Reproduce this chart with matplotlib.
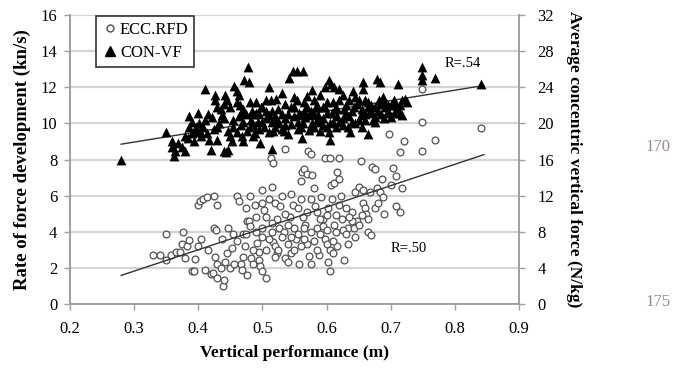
import numpy as np
import matplotlib
matplotlib.use('Agg')
import matplotlib.pyplot as plt
from matplotlib.lines import Line2D

plt.rcParams['font.family'] = ['Liberation Serif', 'DejaVu Serif']

# ECC.RFD (left axis, kn/s)
ecc_x = [0.33, 0.34, 0.35, 0.35, 0.358, 0.365, 0.372, 0.375, 0.377, 0.38, 0.382, 0.386,
         0.39, 0.393, 0.40, 0.403, 0.408, 0.414, 0.405, 0.41, 0.42, 0.423, 0.425, 0.429,
         0.425, 0.428, 0.427, 0.429, 0.43, 0.437, 0.439, 0.44, 0.442, 0.446, 0.449, 0.452,
         0.456, 0.461, 0.464, 0.466, 0.468, 0.47, 0.474, 0.473, 0.475, 0.476, 0.479, 0.476,
         0.481, 0.483, 0.486, 0.489, 0.49, 0.492, 0.494, 0.495, 0.497, 0.499, 0.50, 0.50,
         0.50, 0.503, 0.506, 0.511, 0.513, 0.516, 0.515, 0.516, 0.519, 0.523, 0.52, 0.523,
         0.526, 0.528, 0.53, 0.533, 0.536, 0.54, 0.535, 0.54, 0.543, 0.547, 0.55, 0.553,
         0.555, 0.557, 0.56, 0.562, 0.565, 0.57, 0.56, 0.563, 0.567, 0.57, 0.571, 0.575,
         0.573, 0.575, 0.578, 0.58, 0.582, 0.585, 0.589, 0.592, 0.594, 0.597, 0.598, 0.605,
         0.602, 0.602, 0.605, 0.607, 0.611, 0.609, 0.612, 0.614, 0.616, 0.617, 0.62, 0.62,
         0.622, 0.624, 0.627, 0.63, 0.634, 0.634, 0.639, 0.643, 0.645, 0.65, 0.647, 0.651,
         0.654, 0.656, 0.657, 0.66, 0.662, 0.664, 0.67, 0.665, 0.667, 0.671, 0.676, 0.678,
         0.683, 0.686, 0.688, 0.69, 0.698, 0.701, 0.703, 0.708, 0.708, 0.715, 0.715, 0.718,
         0.72, 0.748, 0.748, 0.748, 0.769, 0.841,
         0.505, 0.51, 0.53, 0.545, 0.55, 0.565, 0.575, 0.58, 0.59, 0.595, 0.60, 0.605,
         0.61, 0.615, 0.625, 0.63, 0.64, 0.60, 0.585, 0.57, 0.555, 0.545, 0.535, 0.515,
         0.50, 0.485, 0.46, 0.445, 0.435, 0.415, 0.395, 0.40, 0.52,
         0.455, 0.47, 0.48, 0.49, 0.505, 0.515, 0.525, 0.54, 0.545, 0.56, 0.565, 0.575,
         0.585, 0.59, 0.60, 0.61, 0.62, 0.635, 0.645, 0.655, 0.675, 0.68]
ecc_y = [2.7, 2.7, 3.9, 2.45, 2.7, 2.9, 2.9, 3.3, 4.0, 2.55, 3.2, 3.55,
         1.8, 1.85, 5.5, 5.7, 5.8, 5.9, 3.6, 1.9, 1.65, 1.7, 6.0, 5.5,
         4.2, 4.1, 2.6, 2.2, 1.45, 3.6, 1.0, 1.3, 2.3, 4.2, 2.0, 3.1,
         2.2, 6.0, 5.7, 2.2, 1.9, 3.9, 3.9, 3.2, 5.3, 4.6, 4.6, 1.6,
         6.0, 2.55, 2.2, 5.5, 4.0, 3.4, 2.9, 2.45, 2.1, 1.8, 6.3, 5.6,
         4.2, 5.2, 1.45, 5.8, 8.1, 7.8, 6.5, 3.45, 3.2, 2.8, 5.6, 4.7,
         4.2, 5.45, 6.0, 4.0, 2.55, 2.3, 8.6, 3.3, 4.8, 5.5, 4.2, 3.6,
         3.9, 2.2, 6.8, 7.3, 7.45, 7.2, 5.8, 4.8, 4.4, 3.3, 8.45, 8.3,
         2.65, 2.2, 7.15, 6.45, 5.4, 4.2, 2.7, 5.9, 4.7, 3.6, 8.1, 8.1,
         5.3, 2.3, 1.8, 6.6, 6.7, 5.8, 4.4, 4.0, 7.3, 3.2, 8.1, 6.9,
         6.0, 4.7, 2.45, 5.3, 4.2, 3.3, 5.1, 4.2, 6.2, 6.5, 4.6, 4.4,
         7.9, 6.3, 5.6, 5.3, 5.0, 4.0, 3.8, 4.7, 6.2, 7.6, 7.5, 6.4,
         6.2, 6.9, 5.9, 5.0, 9.4, 6.6, 7.55, 7.1, 5.45, 5.1, 8.4, 6.45,
         9.0, 11.9, 10.1, 8.45, 9.1, 9.76,
         3.0, 3.6, 3.7, 2.8, 3.0, 3.6, 4.0, 3.5, 3.9, 4.3, 3.3, 3.0,
         3.5, 4.9, 4.1, 3.9, 4.6, 4.9, 5.1, 5.1, 5.3, 6.1, 5.0, 4.5,
         3.7, 3.0, 3.5, 2.8, 2.0, 3.0, 2.5, 3.2, 2.6,
         3.9, 2.6, 4.3, 4.8, 4.8, 4.0, 3.0, 4.4, 3.7, 3.2, 4.2, 5.8,
         3.0, 4.7, 4.1, 2.8, 5.5, 4.8, 3.7, 4.9, 5.3, 5.6]

# CON-VF (right axis, N/kg)
con_x = [0.28, 0.35, 0.36, 0.36, 0.362, 0.364, 0.368, 0.375, 0.38, 0.384, 0.385, 0.385,
         0.39, 0.393, 0.395, 0.397, 0.40, 0.401, 0.403, 0.405, 0.408, 0.41, 0.414, 0.417,
         0.42, 0.422, 0.425, 0.427, 0.429, 0.427, 0.43, 0.432, 0.437, 0.44, 0.443, 0.447,
         0.442, 0.445, 0.441, 0.447, 0.45, 0.452, 0.456, 0.461, 0.464, 0.463, 0.466, 0.466,
         0.47, 0.468, 0.47, 0.472, 0.477, 0.479, 0.476, 0.48, 0.483, 0.484, 0.486, 0.489,
         0.493, 0.495, 0.496, 0.498, 0.50, 0.503, 0.506, 0.51, 0.511, 0.513, 0.515, 0.516,
         0.52, 0.522, 0.523, 0.526, 0.53, 0.533, 0.536, 0.54, 0.542, 0.547, 0.554, 0.549,
         0.554, 0.55, 0.557, 0.56, 0.563, 0.563, 0.562, 0.565, 0.57, 0.567, 0.572, 0.573,
         0.577, 0.577, 0.58, 0.584, 0.587, 0.59, 0.594, 0.597, 0.597, 0.604, 0.60, 0.604,
         0.605, 0.607, 0.612, 0.609, 0.614, 0.617, 0.62, 0.62, 0.625, 0.627, 0.63, 0.634,
         0.637, 0.641, 0.644, 0.643, 0.647, 0.65, 0.654, 0.656, 0.657, 0.66, 0.664, 0.665,
         0.668, 0.671, 0.672, 0.676, 0.678, 0.683, 0.681, 0.684, 0.688, 0.691, 0.695, 0.698,
         0.701, 0.705, 0.708, 0.711, 0.715, 0.718, 0.718, 0.722, 0.725, 0.748, 0.748, 0.748,
         0.769, 0.841,
         0.455, 0.46, 0.475, 0.485, 0.49, 0.505, 0.51, 0.515, 0.525, 0.53, 0.535, 0.545,
         0.545, 0.555, 0.56, 0.575, 0.58, 0.585, 0.59, 0.595, 0.60, 0.605, 0.61, 0.615,
         0.625, 0.63, 0.635, 0.64, 0.645, 0.65, 0.655, 0.66, 0.67, 0.675, 0.685, 0.69,
         0.70, 0.71, 0.53, 0.57, 0.59, 0.60, 0.62, 0.49, 0.50, 0.47, 0.44, 0.45, 0.46,
         0.38, 0.39, 0.41, 0.415, 0.43, 0.435, 0.455, 0.465, 0.48, 0.485, 0.495, 0.505,
         0.515, 0.52, 0.535, 0.54, 0.55, 0.555, 0.565, 0.575, 0.58, 0.585, 0.595, 0.61,
         0.615, 0.625, 0.635, 0.64, 0.655, 0.66, 0.665, 0.675, 0.68, 0.69, 0.695, 0.705,
         0.715]
con_y = [16.0, 19.1, 18.0, 17.4, 16.4, 17.0, 17.8, 17.4, 17.0, 18.4, 19.6, 20.8,
         18.9, 18.0, 19.0, 19.6, 21.2, 20.0, 19.2, 18.6, 19.6, 23.8, 18.9, 18.2,
         17.1, 20.7, 19.4, 22.6, 21.8, 23.2, 18.2, 20.0, 20.9, 16.9, 16.8, 17.1,
         23.2, 22.6, 22.2, 19.2, 18.6, 18.0, 24.2, 23.6, 23.1, 20.8, 21.2, 19.8,
         20.2, 18.6, 18.0, 24.8, 26.2, 24.6, 19.2, 19.6, 20.4, 21.4, 18.6, 18.9,
         20.2, 21.0, 17.8, 21.8, 21.8, 19.6, 20.6, 20.9, 24.0, 22.6, 17.2, 19.2,
         19.6, 22.7, 20.4, 20.0, 21.0, 19.2, 19.8, 18.8, 25.0, 25.8, 25.8, 22.9,
         22.6, 20.8, 21.1, 19.6, 20.0, 25.8, 18.4, 21.4, 21.8, 20.7, 20.9, 19.3,
         20.0, 23.7, 22.6, 21.8, 20.9, 20.2, 21.8, 21.8, 24.0, 24.8, 19.6, 19.1,
         18.2, 24.4, 24.0, 21.1, 21.6, 20.8, 20.2, 22.6, 23.1, 21.6, 21.1, 19.6,
         19.1, 23.6, 22.9, 21.8, 22.2, 20.4, 20.9, 24.6, 23.8, 22.6, 21.8, 18.8,
         21.4, 21.1, 20.4, 20.7, 24.9, 24.6, 22.6, 22.2, 22.9, 21.8, 21.4, 21.1,
         20.7, 22.6, 22.2, 24.4, 21.1, 20.9, 22.6, 22.7, 22.4, 26.2, 25.4, 24.8,
         25.0, 24.4,
         20.4, 19.0, 21.0, 19.8, 21.2, 21.4, 19.0, 20.2, 21.6, 19.4, 20.6, 21.8,
         19.9, 19.4, 20.9, 21.4, 19.6, 20.4, 19.2, 20.6, 21.2, 20.0, 22.4, 19.6,
         20.6, 22.0, 20.8, 21.4, 20.0, 22.6, 21.6, 20.4, 22.0, 21.8, 21.0, 22.4,
         22.0, 21.6, 23.4, 23.0, 23.2, 22.4, 23.8, 22.4, 20.2, 21.6, 20.6, 21.8, 22.4,
         18.6, 20.2, 20.4, 21.0, 19.6, 21.6, 19.6, 22.0, 22.4, 21.0, 19.4, 22.6,
         21.4, 20.8, 22.2, 21.0, 21.8, 20.2, 22.4, 19.6, 21.0, 22.0, 19.8, 20.2,
         21.8, 19.8, 22.6, 20.2, 19.6, 21.0, 22.4, 20.2, 21.4, 20.6, 22.0, 21.2,
         22.0]

# regression lines, end points
ecc_fit_x = [0.28, 0.845]
ecc_fit_y = [1.58, 8.27]
con_fit_x = [0.28, 0.845]
con_fit_y = [17.7, 24.2]

fig = plt.figure(figsize=(6.84, 3.68), dpi=100)
ax = fig.add_axes([0.102, 0.174, 0.657, 0.785])
ax2 = ax.twinx()

ax.set_xlim(0.2, 0.9)
ax.set_ylim(0, 16)
ax2.set_ylim(0, 32)
ax.set_xticks(np.arange(0.2, 0.91, 0.1))
ax.set_xticklabels(['0.2', '0.3', '0.4', '0.5', '0.6', '0.7', '0.8', '0.9'])
ax.set_yticks(range(0, 17, 2))
ax2.set_yticks(range(0, 33, 4))

ax.grid(axis='y', color='#d4d4d4', linewidth=1.6)
ax.set_axisbelow(True)

ax.scatter(ecc_x, ecc_y, s=24, facecolors='white', edgecolors='#505050', linewidths=0.9, zorder=3)
ax.plot(ecc_fit_x, ecc_fit_y, color='#333333', linewidth=1.0, zorder=4)
ax2.scatter(con_x, con_y, s=50, marker='^', color='black', linewidths=0, zorder=3)
ax2.plot(con_fit_x, con_fit_y, color='#333333', linewidth=1.0, zorder=2)

for a in (ax, ax2):
    a.spines['top'].set_visible(False)
    for s in ('left', 'right', 'bottom'):
        a.spines[s].set_color('#a0a0a0')
        a.spines[s].set_linewidth(1.2)
    a.tick_params(colors='#a0a0a0', labelcolor='black', labelsize=12, length=4, width=1)
ax.tick_params(axis='x', pad=8)
ax.tick_params(axis='y', pad=5)
ax2.tick_params(axis='y', pad=9)

ax.set_xlabel('Vertical performance (m)', fontsize=12.5, fontweight='bold', labelpad=6)
ax.set_ylabel('Rate of force development (kn/s)', fontsize=13.5, fontweight='bold', labelpad=7)
ax2.set_ylabel('Average concentric vertical force (N/kg)', fontsize=12.5, fontweight='bold',
               rotation=270, labelpad=20)

ax.text(0.812, 13.3, 'R=.54', fontsize=10.5, ha='center', va='center')
ax.text(0.728, 3.05, 'R=.50', fontsize=10.5, ha='center', va='center')

handles = [Line2D([], [], marker='o', linestyle='none', markerfacecolor='white',
                  markeredgecolor='#505050', markersize=5),
           Line2D([], [], marker='^', linestyle='none', color='black', markersize=6.5)]
leg = ax2.legend(handles, ['ECC.RFD', 'CON-VF'], loc='upper left',
                 bbox_to_anchor=(0.058, 0.997), borderaxespad=0, fontsize=12,
                 frameon=True, fancybox=False, framealpha=1,
                 handletextpad=0.1, handlelength=1.0, borderpad=0.35, labelspacing=0.45)
leg.get_frame().set_edgecolor('#333333')
leg.get_frame().set_linewidth(1.2)

fig.text(0.962, 0.60, '170', fontsize=12, color='#9a8a82', ha='center', va='center')
fig.text(0.962, 0.178, '175', fontsize=12, color='#9a8a82', ha='center', va='center')

fig.savefig('out.png', dpi=100)
